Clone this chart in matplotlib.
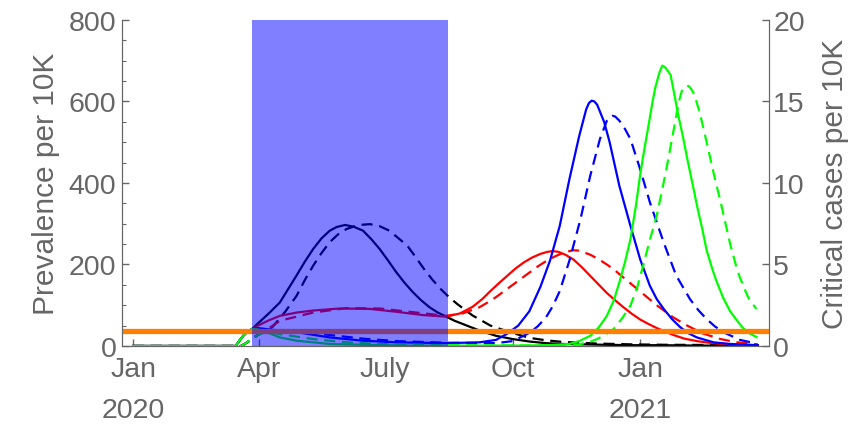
import matplotlib
matplotlib.use('Agg')
import matplotlib.pyplot as plt
import matplotlib.transforms as mtransforms

plt.rcParams['font.family'] = 'Liberation Sans'

# days counted from 1 Jan 2020, values in prevalence per 10K
black_solid_t = [0, 74, 77, 80, 83, 86, 90, 98, 106, 112, 118, 124, 130, 136, 142, 147, 153, 159, 166, 172, 178, 184, 190, 196, 202, 208, 214, 220, 226, 232, 238, 250, 262, 274, 286, 298, 310, 325, 340, 360, 380, 410, 450]
black_solid_v = [0, 0, 14, 27, 36, 42, 55, 80, 107, 140, 173, 207, 238, 264, 283, 292, 297, 293, 283, 262, 238, 210, 181, 155, 132, 112, 95, 82, 72, 62, 54, 38, 25, 17, 11, 7, 5, 4, 3, 2, 2, 1, 1]

black_dash_t = [0, 78, 82, 86, 90, 94, 101, 110, 118, 124, 130, 136, 142, 148, 154, 163, 171, 178, 185, 191, 198, 204, 210, 216, 222, 228, 234, 245, 258, 270, 286, 298, 310, 335, 360, 383, 450]
black_dash_v = [0, 0, 8, 18, 27, 34, 48, 85, 123, 162, 197, 228, 255, 274, 287, 297, 299, 294, 283, 266, 246, 218, 189, 163, 140, 120, 103, 75, 50, 36, 20, 14, 10, 6, 4, 3, 2]

red_solid_t = [0, 74, 77, 80, 83, 86, 90, 98, 106, 118, 130, 149, 171, 190, 209, 226, 236, 245, 252, 258, 264, 270, 276, 282, 288, 294, 299, 303, 307, 312, 318, 324, 330, 336, 342, 348, 354, 360, 366, 372, 378, 390, 398, 407, 418, 431, 451]
red_solid_v = [0, 0, 14, 27, 36, 42, 50, 63, 74, 82, 87, 92, 91, 84, 76, 72, 80, 96, 115, 135, 154, 172, 190, 205, 217, 226, 231, 233, 231, 224, 212, 193, 172, 151, 130, 112, 95, 79, 65, 54, 44, 27, 18, 12, 7, 4, 2]

red_dash_t = [0, 78, 82, 86, 90, 94, 106, 130, 154, 178, 202, 226, 238, 250, 256, 262, 268, 274, 280, 286, 292, 298, 304, 310, 314, 318, 322, 330, 336, 342, 348, 354, 360, 366, 372, 378, 384, 390, 400, 411, 424, 436, 451]
red_dash_v = [0, 0, 8, 18, 27, 34, 62, 82, 93, 92, 83, 74, 80, 95, 107, 120, 135, 150, 165, 180, 195, 208, 219, 228, 232, 235, 234, 224, 213, 200, 185, 168, 151, 134, 117, 100, 85, 70, 50, 31, 17, 9, 4]

blue_solid_t = [0, 74, 77, 80, 83, 86, 90, 100, 118, 142, 166, 190, 226, 250, 262, 270, 278, 286, 294, 301, 308, 315, 322, 327, 329, 331, 333, 335, 340, 344, 351, 359, 366, 373, 378, 383, 389, 395, 401, 407, 419, 431, 443, 451]
blue_solid_v = [0, 0, 14, 27, 36, 42, 44, 40, 34, 21, 13, 9, 7, 9, 15, 30, 50, 85, 145, 210, 295, 410, 515, 580, 596, 602, 600, 592, 550, 500, 393, 295, 213, 148, 115, 91, 66, 46, 31, 21, 9, 5, 3, 2]

blue_dash_t = [0, 78, 82, 86, 90, 94, 118, 142, 166, 190, 226, 262, 274, 286, 292, 298, 303, 308, 315, 323, 330, 337, 342, 344, 346, 348, 351, 355, 359, 366, 373, 383, 392, 402, 408, 414, 420, 426, 438, 450]
blue_dash_v = [0, 0, 8, 18, 27, 36, 36, 27, 18, 12, 8, 7, 12, 32, 48, 70, 98, 135, 210, 312, 418, 508, 553, 561, 565, 563, 553, 533, 508, 434, 353, 254, 173, 115, 88, 66, 48, 34, 15, 6]

green_solid_t = [0, 74, 77, 80, 83, 86, 90, 94, 106, 118, 142, 166, 200, 280, 300, 315, 322, 330, 336, 342, 347, 351, 355, 359, 363, 366, 369, 372, 375, 377, 380, 382, 384, 386, 388, 391, 393, 397, 400, 404, 407, 411, 414, 418, 421, 426, 431, 436, 440, 445, 450]
green_solid_v = [0, 0, 14, 27, 36, 42, 41, 37, 21, 13, 5, 3, 1, 1, 2, 5, 12, 25, 45, 74, 112, 156, 205, 262, 345, 420, 482, 540, 600, 635, 672, 688, 684, 675, 665, 612, 575, 512, 460, 395, 345, 285, 235, 190, 160, 118, 85, 62, 45, 31, 22]

green_dash_t = [0, 78, 82, 86, 90, 95, 100, 106, 130, 154, 178, 220, 300, 318, 328, 335, 341, 347, 353, 359, 364, 368, 373, 378, 382, 385, 388, 391, 394, 396, 398, 401, 403, 405, 409, 413, 416, 420, 424, 428, 431, 435, 438, 442, 445, 450]
green_dash_v = [0, 0, 8, 18, 27, 33, 34, 29, 17, 9, 5, 2, 1, 2, 8, 17, 28, 42, 68, 99, 145, 195, 260, 320, 385, 435, 490, 545, 600, 625, 637, 638, 630, 618, 573, 515, 470, 410, 355, 295, 250, 200, 168, 135, 112, 91]

icu_capacity = 37
lockdown = (85.5, 227)

tick_days = [0, 91, 182, 274, 366]
tick_labels = ['Jan', 'Apr', 'July', 'Oct', 'Jan']
year_days = [0, 366]
year_labels = ['2020', '2021']

fig = plt.figure(figsize=(8.59, 4.31), dpi=100)
ax = fig.add_axes([0.142, 0.1949, 0.7532, 0.7564])
gray = '#666666'

style = dict(lw=1.6, solid_joinstyle='round', dash_joinstyle='round')
dash = (0, (5, 3))
ax.plot(black_solid_t, black_solid_v, color='black', **style)
ax.plot(black_dash_t, black_dash_v, color='black', ls=dash, **style)
ax.plot(red_solid_t, red_solid_v, color='red', **style)
ax.plot(red_dash_t, red_dash_v, color='red', ls=dash, **style)
ax.plot(blue_solid_t, blue_solid_v, color='blue', **style)
ax.plot(blue_dash_t, blue_dash_v, color='blue', ls=dash, **style)
ax.plot(green_solid_t, green_solid_v, color='#00ff00', **style)
ax.plot(green_dash_t, green_dash_v, color='#00ff00', ls=dash, **style)
ax.axhline(icu_capacity, color='#ff8000', lw=3.8, zorder=3)
ax.axvspan(lockdown[0], lockdown[1], color='blue', alpha=0.5, lw=0, zorder=5)

ax.set_xlim(-8, 459)
ax.set_ylim(0, 800)
ax.set_xticks(tick_days)
ax.set_xticklabels(tick_labels)
ax.set_yticks([0, 200, 400, 600, 800])
ax.set_yticks(range(0, 801, 50), minor=True)
ax.tick_params(axis='both', which='major', direction='in', length=5, width=1,
               color=gray, labelcolor=gray, labelsize=20.5)
ax.tick_params(axis='x', pad=7)
ax.tick_params(axis='y', pad=4)
ax.tick_params(axis='y', which='minor', direction='in', length=3, width=0.8, color=gray)
ax.set_ylabel('Prevalence per 10K', color=gray, fontsize=21.5, labelpad=6)
for s in ['left', 'right', 'bottom']:
    ax.spines[s].set_color(gray)
ax.spines['top'].set_visible(False)

trans = mtransforms.blended_transform_factory(ax.transData, ax.transAxes)
for d, lab in zip(year_days, year_labels):
    ax.text(d, -0.195, lab, transform=trans, ha='center', va='center',
            color=gray, fontsize=20.5)

ax2 = ax.twinx()
ax2.set_ylim(0, 20)
ax2.set_yticks([0, 5, 10, 15, 20])
ax2.tick_params(axis='y', direction='in', length=5, width=1, color=gray,
                labelcolor=gray, labelsize=20.5, pad=3)
ax2.set_ylabel('Critical cases per 10K', color=gray, fontsize=21.5, labelpad=12)
for s in ['left', 'right', 'bottom']:
    ax2.spines[s].set_color(gray)
ax2.spines['top'].set_visible(False)

fig.savefig('out.png', dpi=100)
